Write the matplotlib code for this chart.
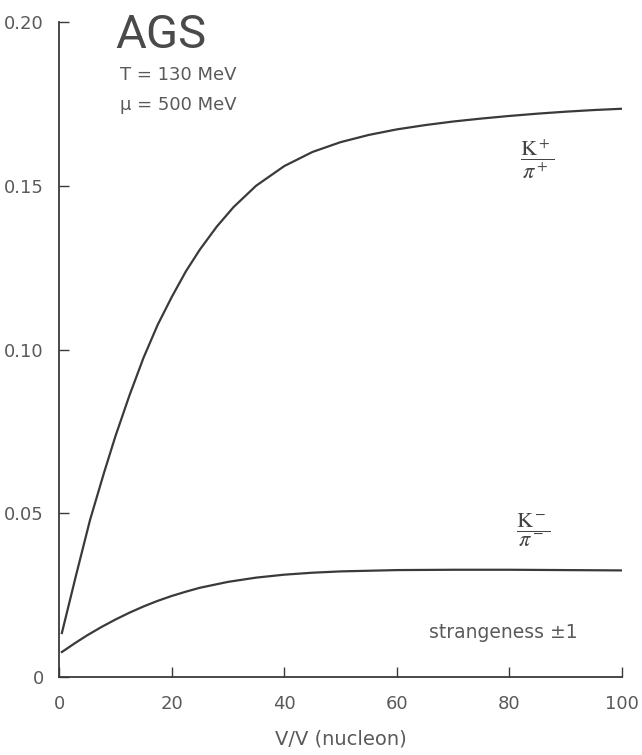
import matplotlib
matplotlib.use("Agg")
import matplotlib.pyplot as plt
import matplotlib as mpl

mpl.rcParams['font.family'] = ['DejaVu Sans']
mpl.rcParams['mathtext.fontset'] = 'stix'

# K+/pi+ ratio vs V/V(nucleon)
vol_kp = [0.5, 3, 5.5, 8, 10, 12.5, 15, 17.5, 20, 22.5, 25, 28, 31, 35, 40,
          45, 50, 55, 60, 65, 70, 75, 80, 85, 90, 95, 100]
ratio_kp = [0.0135, 0.031, 0.048, 0.0625, 0.0735, 0.086, 0.0975, 0.1075,
            0.116, 0.1238, 0.1305, 0.1375, 0.1435, 0.150, 0.156, 0.1603,
            0.1633, 0.1655, 0.1672, 0.1685, 0.1696, 0.1705, 0.1713, 0.1720,
            0.1726, 0.1731, 0.1735]

# K-/pi- ratio
vol_km = [0.5, 3, 5, 7.5, 10, 12.5, 15, 17.5, 20, 22.5, 25, 30, 35, 40, 45,
          50, 60, 70, 80, 90, 100]
ratio_km = [0.0077, 0.0106, 0.0128, 0.0153, 0.0176, 0.0197, 0.0216, 0.0233,
            0.0248, 0.0261, 0.0273, 0.0291, 0.0304, 0.0313, 0.0319, 0.0323,
            0.0327, 0.0328, 0.0328, 0.0327, 0.0326]

x_ticks = [0, 20, 40, 60, 80, 100]
y_ticks = [0, 0.05, 0.10, 0.15, 0.20]
y_ticklabels = ['0', '0.05', '0.10', '0.15', '0.20']

line_col = '#3a3a3a'
text_col = '#5a5a5a'

fig = plt.figure(figsize=(6.42, 7.55), dpi=100)
ax = fig.add_axes([0.092, 0.103, 0.877, 0.868])

ax.plot(vol_kp, ratio_kp, color=line_col, lw=1.6, solid_joinstyle='round')
ax.plot(vol_km, ratio_km, color=line_col, lw=1.6, solid_joinstyle='round')

ax.set_xlim(0, 100)
ax.set_ylim(0, 0.20)
ax.spines['top'].set_visible(False)
ax.spines['right'].set_visible(False)
for s in ['left', 'bottom']:
    ax.spines[s].set_color(line_col)
    ax.spines[s].set_linewidth(1.3)

ax.set_xticks(x_ticks)
ax.set_yticks(y_ticks)
ax.set_yticklabels(y_ticklabels)
ax.tick_params(direction='in', length=7, width=1, colors=line_col,
               labelsize=13, labelcolor=text_col)
ax.tick_params(axis='x', pad=13)
ax.tick_params(axis='y', pad=11)

ax.set_xlabel('V/V (nucleon)', fontsize=14, color=text_col, labelpad=12)

ax.text(9.9, 0.196, 'AGS', fontsize=34, color='#4a4a4a', ha='left', va='center',
        family=['Roboto', 'DejaVu Sans'])
ax.text(10.8, 0.1838, 'T = 130 MeV', fontsize=13, color=text_col, ha='left', va='center')
ax.text(10.8, 0.1747, 'μ = 500 MeV', fontsize=13, color=text_col, ha='left', va='center')

ax.text(84.9, 0.158, r'$\dfrac{\mathrm{K}^+}{\pi^+}$', fontsize=16, color='#444444',
        ha='center', va='center')
ax.text(84.2, 0.0449, r'$\dfrac{\mathrm{K}^-}{\pi^-}$', fontsize=16, color='#444444',
        ha='center', va='center')

ax.text(78.9, 0.0137, 'strangeness ±1', fontsize=13.5, color=text_col,
        ha='center', va='center')

fig.savefig('out.png', dpi=100)
